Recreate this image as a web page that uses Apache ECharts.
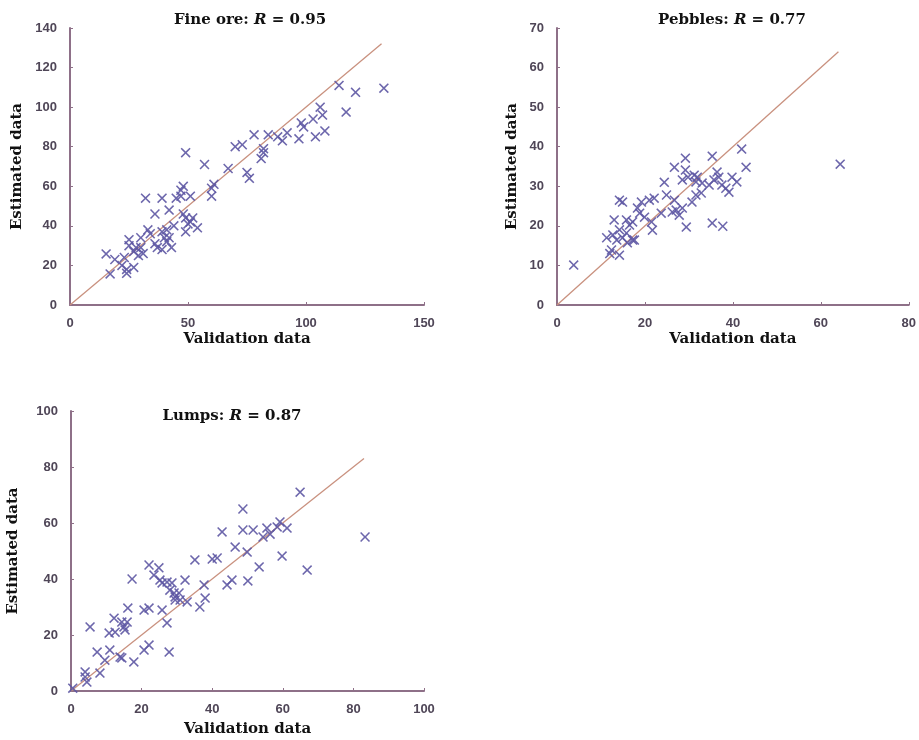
<!DOCTYPE html>
<html>
<head>
<meta charset="utf-8">
<script src="https://cdn.jsdelivr.net/npm/echarts@6/dist/echarts.min.js"></script>
<style>
  html, body { margin: 0; padding: 0; background: #ffffff; }
  #chart { width: 919px; height: 740px; }
</style>
</head>
<body>
<div id="chart"></div>
<script>
// Validation vs. estimated data for three size fractions: [validation, estimated]
const fineOre = [
  [15.3,25.8],[17,15.7],[19,23],[23,24],[24,18],[24,16],[27,19],[22,20],[25,33],[25,30],
  [28,29],[27,27],[30,34],[31,26],[30,29],[29,25],[33,38],[34,36],[32,54],[36,46],
  [36,31],[37,29],[39,28],[39,54],[39,37],[40,34],[42,34],[41,38],[42,48],[41,32],
  [43,29],[44,40],[45,54],[47,55],[48,60],[47,58],[49,77],[51,55],[48,46],[49,44],
  [52,44],[50,41],[51,42],[49,37],[54,39],[57,71],[60,59],[61,61],[60,55],[67,69],
  [70,80],[73,81],[75,67],[76,64],[78,86],[82,79],[82,77],[81,74],[84,86],[88,85],
  [90,83],[92,87],[97,84],[98,92],[99,90],[103,94],[104,85],[106,100],[107,96],[108,88],
  [114,111],[121,107.5],[117,97.5],[133,109.6]
];
const pebbles = [
  [3.8,10.1],[12,13],[14.2,12.6],[12.4,13.9],[11.3,17],[12.7,17.7],[13.6,16.4],[14.9,17],
  [15.8,18.2],[17.2,16.4],[14.2,19],[16,15.7],[13,21.5],[15.8,21.5],[16.5,20.2],[14.2,26.5],
  [14.9,26],[18.3,24.5],[19.2,26],[18.8,23.2],[19.9,22.2],[21,26.5],[22.1,27],[21.7,18.9],
  [24.4,31],[24.9,27.8],[26.7,26.5],[27.1,24],[27.8,22.7],[26.2,23.5],[28.5,24.5],[29.4,19.7],
  [26.7,34.8],[29.2,37.1],[29.2,34.1],[28.5,31.6],[29.8,32.3],[30.7,26],[31.6,27.8],[31.2,32.8],
  [35.3,37.6],[42,39.4],[43,34.8],[64.4,35.6],[36.4,33.6],[36.8,32.3],[35.7,31.6],[34.6,30.3],
  [33,30.8],[31.9,32.3],[31.6,31.1],[32.8,28.3],[37.5,30.3],[39.8,32.3],[40.9,31.1],[38.4,29.5],
  [39.1,28.5],[35.3,20.7],[37.7,19.9],[23.7,23.2],[21.5,21],[17.6,16.4],[17.2,21]
];
const lumps = [
  [0.5,1],[4,6.8],[4.5,3.2],[4,5],[8.2,6.4],[5.4,22.9],[7.4,13.9],[9.6,11],[11,14.6],[13.9,12.1],
  [14.4,11.8],[17.8,10.4],[10.8,20.7],[12.2,26],[12.5,21],[14.4,24.6],[15.3,21.8],[15.9,24.6],
  [15,22.9],[16.1,29.6],[17.3,40],[20.7,14.6],[22.1,16.4],[20.7,28.9],[22.1,29.6],[22.1,45],
  [24.9,44],[23.5,41.4],[25.2,39.6],[25.8,38.6],[25.8,28.9],[27.2,24.3],[27.8,13.9],[27.2,38.9],
  [28.6,38.6],[28,36],[29.2,35],[29.5,33.6],[30.6,35],[29.5,32.5],[30.9,32.5],[32.9,31.8],
  [32.3,39.6],[35.1,46.8],[37.7,37.9],[36.5,30],[38,33.2],[40,47.1],[41.4,47.5],[42.8,56.8],
  [44.2,37.9],[45.6,39.6],[46.5,51.4],[48.7,65],[64.9,71],[48.7,57.5],[51.6,57.5],[55.5,58.2],
  [58.4,58.6],[59.2,60.4],[61.2,58.2],[54.4,55],[56.4,56],[49.9,49.6],[59.8,48.2],[53.3,44.3],
  [66.9,43.2],[50.1,39.3],[83.3,55]
];

// 1:1 reference line end points (validation = estimated)
const fineOreLine = [0, 132];
const pebblesLine = [0, 64];
const lumpsLine = [0, 83];

// Panel titles and correlation coefficients
const panelNames = ['Fine ore', 'Pebbles', 'Lumps'];
const panelR = ['0.95', '0.77', '0.87'];

// Axis ranges and tick steps
const xMax = [150, 80, 100];
const xStep = [50, 20, 20];
const yMax = [140, 70, 100];
const yStep = [20, 10, 20];

const axisColor = '#8e7088';
const labelColor = '#4f4657';
const markColor = '#5d57a3';
const refLineColor = '#c9917f';
const serif = 'DejaVu Serif';

// Thin "x" marker
const crossSymbol = 'path://M0,1.1L1.1,0L5,3.9L8.9,0L10,1.1L6.1,5L10,8.9L8.9,10L5,6.1L1.1,10L0,8.9L3.9,5Z';

const grids = [
  { left: 70, top: 28, width: 354, height: 277 },
  { left: 557, top: 28, width: 354, height: 277 },
  { left: 71, top: 411, width: 353, height: 280 }
];
const yNameGap = [45, 37, 50];
const xNameGap = [27, 27, 31];
const titlePos = [[245, 8], [727, 8], [227, 404]];

const chart = echarts.init(document.getElementById('chart'), null, { renderer: 'canvas' });

const xAxes = [], yAxes = [], series = [], titles = [];
const datasets = [fineOre, pebbles, lumps];
const lines = [fineOreLine, pebblesLine, lumpsLine];

for (let i = 0; i < 3; i++) {
  const common = {
    gridIndex: i,
    min: 0,
    axisLine: { show: true, onZero: false, lineStyle: { color: axisColor, width: 2 } },
    axisTick: { show: true, inside: true, length: 3, lineStyle: { color: axisColor, width: 1 } },
    splitLine: { show: false },
    axisLabel: {
      color: labelColor, fontFamily: 'Liberation Sans', fontWeight: 'bold', fontSize: 13
    },
    nameLocation: 'middle',
    nameTextStyle: { fontFamily: serif, fontWeight: 'bold', fontSize: 15, color: '#111111' }
  };
  xAxes.push(Object.assign({}, common, {
    type: 'value', max: xMax[i], interval: xStep[i],
    name: 'Validation data', nameGap: xNameGap[i],
    axisLabel: Object.assign({}, common.axisLabel, { margin: 12 })
  }));
  yAxes.push(Object.assign({}, common, {
    type: 'value', max: yMax[i], interval: yStep[i],
    name: 'Estimated data', nameGap: yNameGap[i],
    axisLabel: Object.assign({}, common.axisLabel, { margin: 13 })
  }));
  series.push({
    type: 'line',
    xAxisIndex: i, yAxisIndex: i,
    data: [[lines[i][0], lines[i][0]], [lines[i][1], lines[i][1]]],
    symbol: 'none',
    lineStyle: { color: refLineColor, width: 1.3 },
    silent: true, z: 2
  });
  series.push({
    type: 'scatter',
    xAxisIndex: i, yAxisIndex: i,
    data: datasets[i],
    symbol: crossSymbol,
    symbolSize: 10,
    itemStyle: { color: markColor, opacity: 0.9 },
    z: 3
  });
  titles.push({
    text: '{b|' + panelNames[i] + ': }{i|R}{b| = ' + panelR[i] + '}',
    left: titlePos[i][0], top: titlePos[i][1],
    textAlign: 'center',
    textStyle: {
      rich: {
        b: { fontFamily: serif, fontWeight: 'bold', fontSize: 15, color: '#111111' },
        i: { fontFamily: serif, fontWeight: 'bold', fontStyle: 'italic', fontSize: 15, color: '#111111' }
      }
    }
  });
}

chart.setOption({
  backgroundColor: '#ffffff',
  animation: false,
  title: titles,
  grid: grids,
  xAxis: xAxes,
  yAxis: yAxes,
  series: series
});
</script>
</body>
</html>
